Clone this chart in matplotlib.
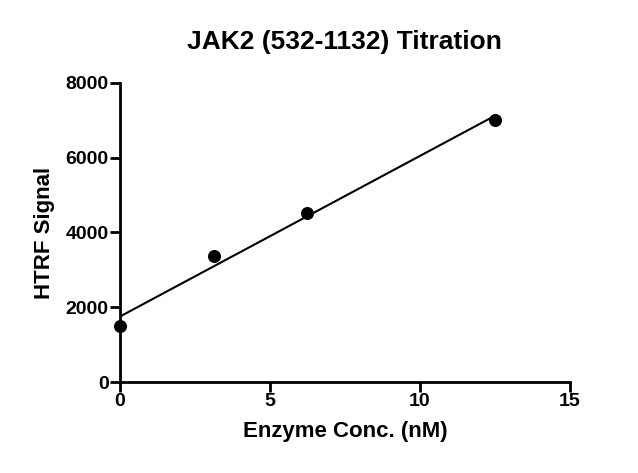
import matplotlib
matplotlib.use("Agg")
import matplotlib.pyplot as plt
import numpy as np

conc = [0, 3.125, 6.25, 12.5]
signal = [1500, 3370, 4530, 7000]
xticks = [0, 5, 10, 15]
yticks = [0, 2000, 4000, 6000, 8000]

plt.rcParams['font.family'] = ['Liberation Sans', 'DejaVu Sans']
fig = plt.figure(figsize=(6.38, 4.73), dpi=100)
ax = fig.add_axes([0.188, 0.192, 0.705, 0.633])
ax.scatter(conc, signal, s=70, color='black', zorder=3, clip_on=False)
m, b = np.polyfit(conc, signal, 1)
xl = np.array([0, 12.5])
ax.plot(xl, m * xl + b, color='black', lw=1.5)
ax.set_xlim(0, 15)
ax.set_ylim(0, 8000)
ax.set_xticks(xticks)
ax.set_yticks(yticks)
for s in ['top', 'right']:
    ax.spines[s].set_visible(False)
for s in ['left', 'bottom']:
    ax.spines[s].set_linewidth(2)
ax.tick_params(width=2, length=7, labelsize=14, direction='out', pad=1)
for t in ax.get_xticklabels() + ax.get_yticklabels():
    t.set_fontweight('bold')
ax.set_xlabel('Enzyme Conc. (nM)', fontsize=16, fontweight='bold', labelpad=8)
ax.set_ylabel('HTRF Signal', fontsize=16, fontweight='bold', labelpad=8)
ax.set_title('JAK2 (532-1132) Titration', fontsize=19, fontweight='bold', pad=24)
fig.savefig('out.png', dpi=100)
